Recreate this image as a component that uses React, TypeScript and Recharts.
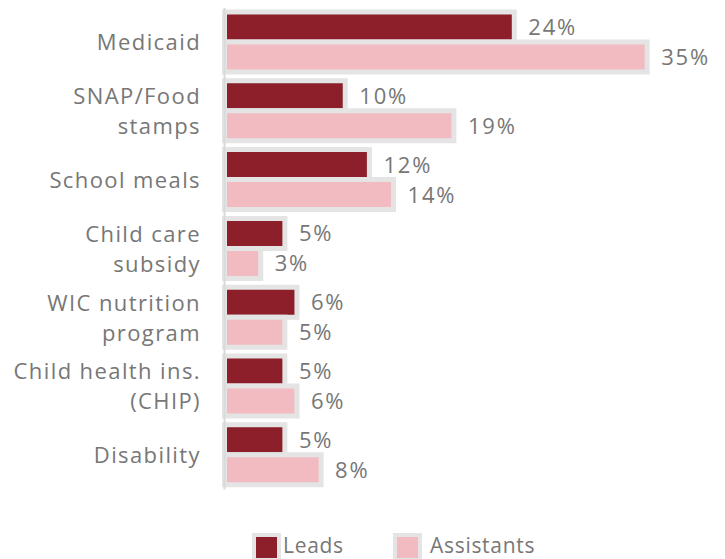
import React from 'react';
import { BarChart, Bar, XAxis, YAxis, LabelList } from 'recharts';

const categories = ['Medicaid', 'SNAP/Food stamps', 'School meals', 'Child care subsidy', 'WIC nutrition program', 'Child health ins. (CHIP)', 'Disability'];
const categoryLines: string[][] = [['Medicaid'], ['SNAP/Food', 'stamps'], ['School meals'], ['Child care', 'subsidy'], ['WIC nutrition', 'program'], ['Child health ins.', '(CHIP)'], ['Disability']];
const leads = [24, 10, 12, 5, 6, 5, 5];
const assistants = [35, 19, 14, 3, 5, 6, 8];
const seriesNames = ['Leads', 'Assistants'];

const LEADS_COLOR = '#8c1f29';
const ASSIST_COLOR = '#f2bbc1';
const BORDER = '#e4e4e4';
const TEXT = '#777777';
const FONT = '"Open Sans", sans-serif';

const data = categories.map((name, i) => ({ name, leads: leads[i], assistants: assistants[i] }));

const CategoryTick = (props: any) => {
  const { x, y, payload } = props;
  const idx = categories.indexOf(payload.value);
  const lines = categoryLines[idx] || [payload.value];
  const lh = 30;
  return (
    <text x={x} y={y} textAnchor="end" fill={TEXT} fontSize={22} fontFamily={FONT} letterSpacing={1.4}>
      {lines.map((l, i) => (
        <tspan key={i} x={x} y={y + (i - (lines.length - 1) / 2) * lh} dy="0.36em">{l}</tspan>
      ))}
    </text>
  );
};

const ValueLabel = (props: any) => {
  const { x, y, width, height, value } = props;
  return (
    <text x={x + width + 14} y={y + height / 2} dy="0.36em" textAnchor="start" fill={TEXT} fontSize={22} fontFamily={FONT} letterSpacing={1.8}>
      {value}%
    </text>
  );
};

const LegendItem = ({ color, label, left, textLeft }: { color: string; label: string; left: number; textLeft: number }) => (
  <>
    <div style={{ position: 'absolute', left, top: 533, width: 21, height: 21, background: color, border: `4px solid ${BORDER}` }} />
    <div style={{ position: 'absolute', left: textLeft, top: 531, fontSize: 21, lineHeight: '28px', color: TEXT, fontFamily: FONT, letterSpacing: 0.7 }}>{label}</div>
  </>
);

export default function App() {
  return (
    <div style={{ position: 'absolute', left: 0, top: 0, width: 725, height: 559, background: '#fff', overflow: 'hidden' }}>
      <BarChart
        width={725}
        height={500}
        data={data}
        layout="vertical"
        margin={{ top: 8, right: 17.5, bottom: 10.4, left: 0 }}
        barGap={0}
        barSize={30}
      >
        <XAxis type="number" domain={[0, 40]} hide />
        <YAxis
          type="category"
          dataKey="name"
          width={224.5}
          tickLine={false}
          tickSize={0}
          tickMargin={23.5}
          axisLine={{ stroke: '#d9d9d9', strokeWidth: 2 }}
          tick={<CategoryTick />}
          interval={0}
        />
        <Bar dataKey="leads" name={seriesNames[0]} fill={LEADS_COLOR} stroke={BORDER} strokeWidth={5} isAnimationActive={false}>
          <LabelList dataKey="leads" content={<ValueLabel />} />
        </Bar>
        <Bar dataKey="assistants" name={seriesNames[1]} fill={ASSIST_COLOR} stroke={BORDER} strokeWidth={5} isAnimationActive={false}>
          <LabelList dataKey="assistants" content={<ValueLabel />} />
        </Bar>
      </BarChart>
      <LegendItem color={LEADS_COLOR} label={seriesNames[0]} left={252} textLeft={283} />
      <LegendItem color={ASSIST_COLOR} label={seriesNames[1]} left={393} textLeft={430} />
    </div>
  );
}
